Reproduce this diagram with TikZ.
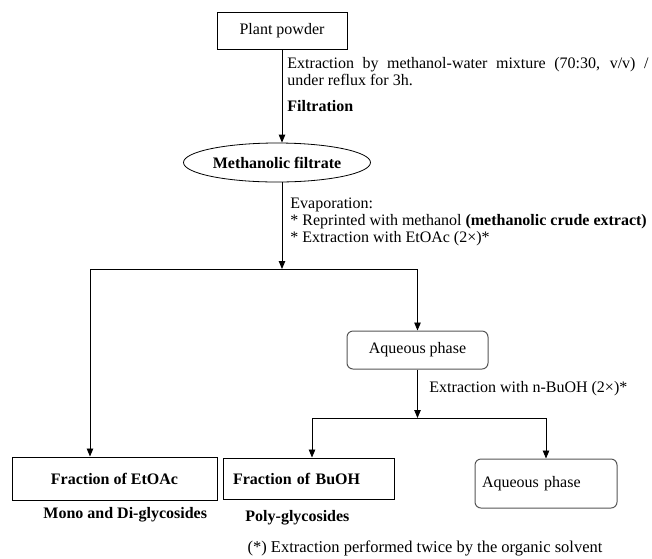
\documentclass[tikz,border=0pt]{standalone}
\usepackage{fontspec}
\setmainfont{Liberation Serif}
\usetikzlibrary{arrows.meta,calc,positioning,shapes.geometric}
\definecolor{rim}{RGB}{85,85,85}

\begin{document}
\begin{tikzpicture}[x=1pt,y=-1pt,>={Triangle[length=8pt,width=6.5pt]},line width=0.9pt,
 every node/.style={font=\fontsize{16}{17}\selectfont,inner sep=0pt},
 box/.style={draw,rectangle,line width=1pt},
 rbox/.style={draw=rim,rectangle,rounded corners=6pt,line width=1pt},
 oval/.style={draw,ellipse,line width=0.8pt},
 note/.style={anchor=base west}]
\useasboundingbox (0,0) rectangle (652,558);
% main column
\node[box,minimum width=130,minimum height=37] (plant) at (282,30.5) {Plant powder};
\node[oval,minimum width=187,minimum height=39] (filtrate) at (277,162.5) {\textbf{Methanolic filtrate}};
\coordinate (s1) at (282,269);
\node[rbox,minimum width=141,minimum height=38] (aq1) at (417.5,350) {Aqueous phase};
\coordinate (s2) at (417.5,418);
% final fractions
\node[box,minimum width=205,minimum height=43] (etoac) at (114.5,478.5) {\textbf{Fraction of EtOAc}};
\node[box,minimum height=41,inner xsep=10pt,text width=151pt,align=left] (buoh) at (308.5,478.5) {\textbf{Fraction of BuOH}};
\node[rbox,minimum height=49,inner xsep=7pt,text width=128pt,align=left] (aq2) at (546,483.5) {Aqueous phase};
% step texts
\node[note] (extr1) at (287,68) {\makebox[361pt][s]{Extraction by methanol-water mixture (70:30, v/v) /}};
\node[note] (extr2) at (287,85) {under reflux for 3h.};
\node[note] (filt) at (287,111) {\textbf{Filtration}};
\node[note] (evap1) at (290,208) {Evaporation:};
\node[note] (evap2) at (290,225) {* Reprinted with methanol \textbf{(methanolic crude extract)}};
\node[note] (evap3) at (290,242) {* Extraction with EtOAc (2×)*};
\node[note] (bextr) at (429,392) {Extraction with n-BuOH (2×)*};
\node[note] (mono) at (43,518) {\textbf{Mono and Di-glycosides}};
\node[note] (poly) at (245,521) {\textbf{Poly-glycosides}};
\node[anchor=base,font=\fontsize{16.5}{17}\selectfont] (foot) at (425,552) {(*) Extraction performed twice by the organic solvent};
% arrows
\draw[->] (plant) -- (plant |- filtrate.north);
\draw[->] (filtrate.south -| plant) -- (s1);
\draw[->] (s1) -| ([xshift=-24.5]etoac.north);
\draw[->] (s1) -| (aq1.north);
\draw[->] (aq1) -- (s2);
\draw[->] (s2) -| ([xshift=3.5]buoh.north);
\draw[->] (s2) -| (aq2.north);
\end{tikzpicture}
\end{document}
